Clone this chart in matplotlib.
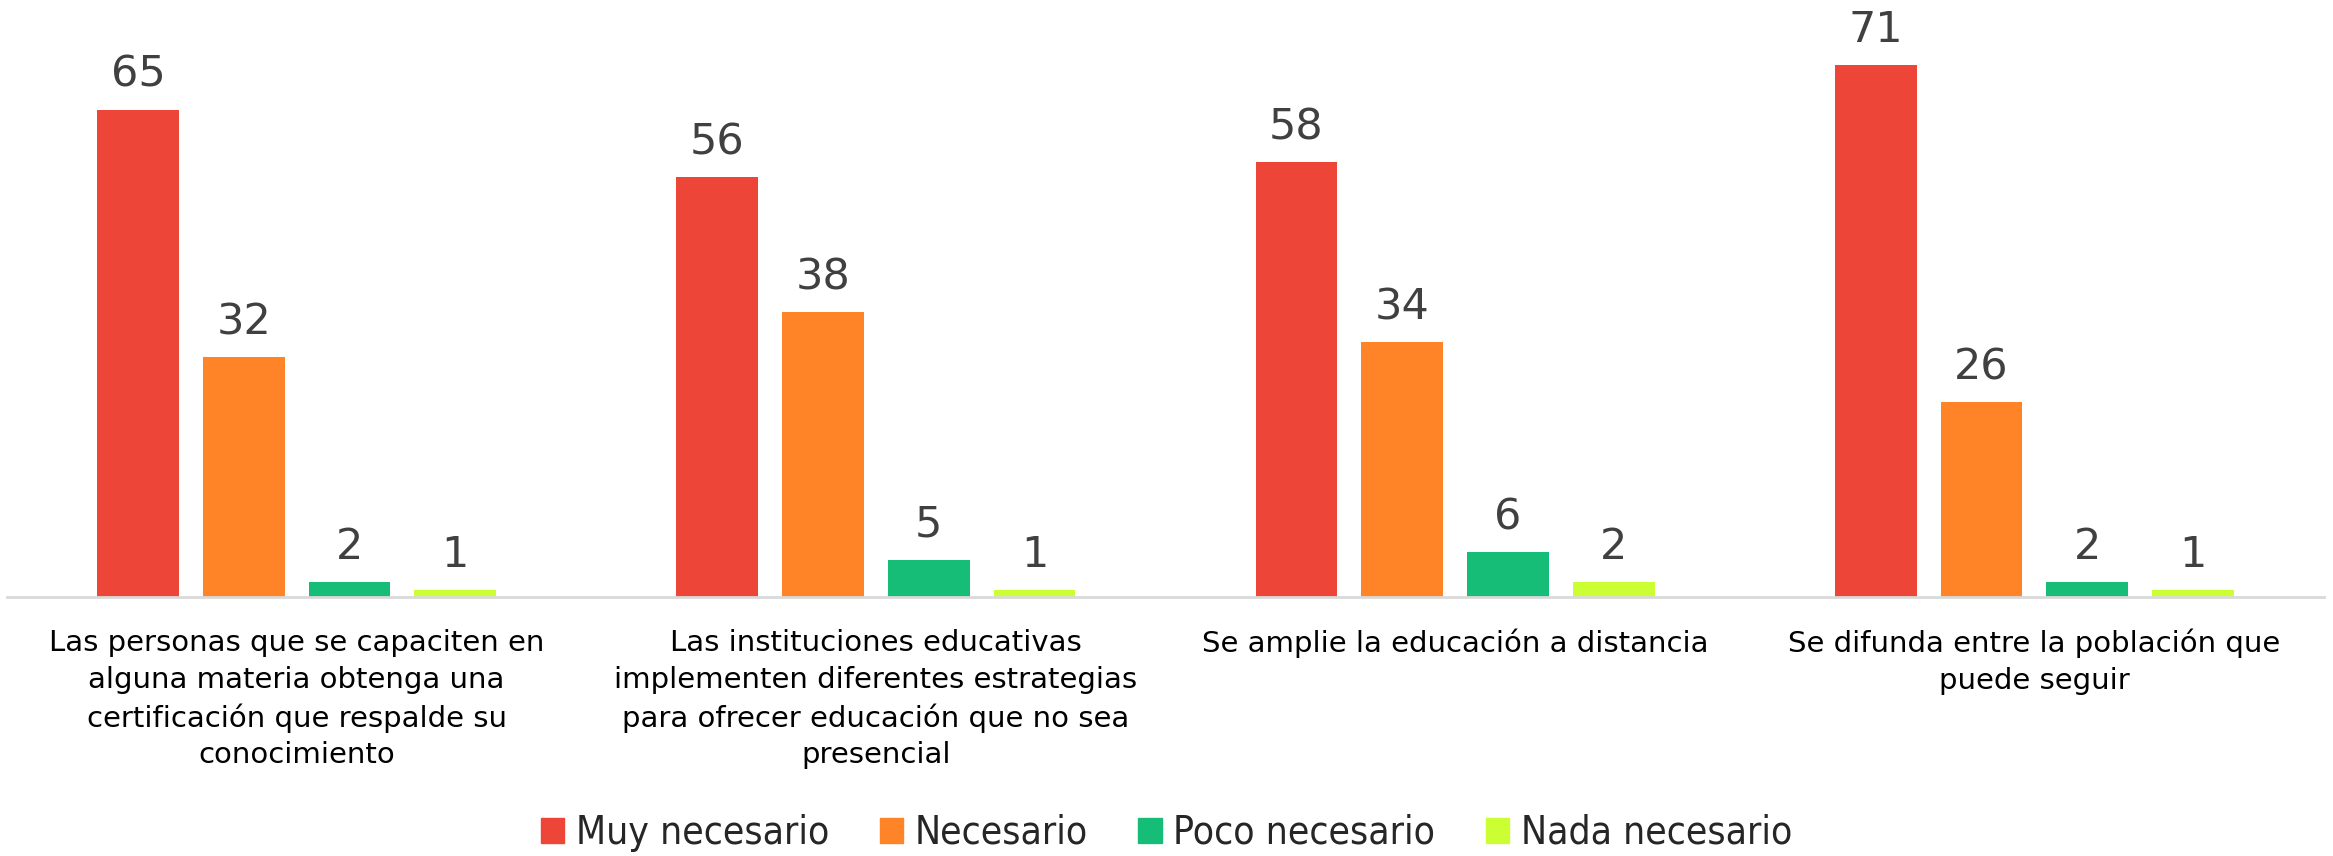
import numpy as np
from matplotlib import pyplot as plt
from matplotlib.patches import Patch
from matplotlib import font_manager

plt.rcParams.update({'font.family': 'DejaVu Sans',
                     'text.color': '#262626'})

categories = [
    'Las personas que se capaciten en\nalguna materia obtenga una\ncertificación que respalde su\nconocimiento',
    'Las instituciones educativas\nimplementen diferentes estrategias\npara ofrecer educación que no sea\npresencial',
    'Se amplie la educación a distancia',
    'Se difunda entre la población que\npuede seguir',
]
series = ['Muy necesario', 'Necesario', 'Poco necesario', 'Nada necesario']
muy_necesario = [65, 56, 58, 71]
necesario = [32, 38, 34, 26]
poco_necesario = [2, 5, 6, 2]
nada_necesario = [1, 1, 2, 1]
values = [muy_necesario, necesario, poco_necesario, nada_necesario]
colors = ['#EE4539', '#FE8427', '#16BD77', '#CCFF33']

fig = plt.figure(figsize=(23.33, 8.56), dpi=100)
ax = fig.add_axes([7/2333, 1 - 597/856, (2324 - 7)/2333, 597/856])

x = np.arange(len(categories))
step = 0.1825
width = 0.141
for i, (name, vals, c) in enumerate(zip(series, values, colors)):
    pos = x + (i - 1.5) * step
    bars = ax.bar(pos, vals, width, color=c, label=name)
    for b, v in zip(bars, vals):
        ax.annotate(str(v), (b.get_x() + b.get_width()/2, v),
                    xytext=(0, 10), textcoords='offset points',
                    ha='center', va='bottom', fontsize=31, color='#404040')

ax.set_xlim(-0.5, 3.5)
ax.set_ylim(0, 597/7.5)
ax.set_xticks(x)
ax.set_xticklabels(categories, fontsize=21, linespacing=1.4, va='top')
ax.tick_params(axis='x', length=0, pad=23)
ax.set_yticks([])
for s in ['top', 'right', 'left']:
    ax.spines[s].set_visible(False)
ax.spines['bottom'].set_color('#D9D9D9')
ax.spines['bottom'].set_linewidth(2)

leg_font = font_manager.FontProperties(family='DejaVu Sans', stretch='condensed', size=28)
handles = [Patch(color=c) for c in colors]
fig.legend(handles, series, loc='center', ncol=4, frameon=False,
           bbox_to_anchor=(0.5, 1 - 833/856), prop=leg_font,
           borderpad=0, borderaxespad=0,
           handlelength=0.6, handleheight=0.6, handletextpad=0.3,
           columnspacing=1.3)

fig.savefig('out.png', dpi=100)
